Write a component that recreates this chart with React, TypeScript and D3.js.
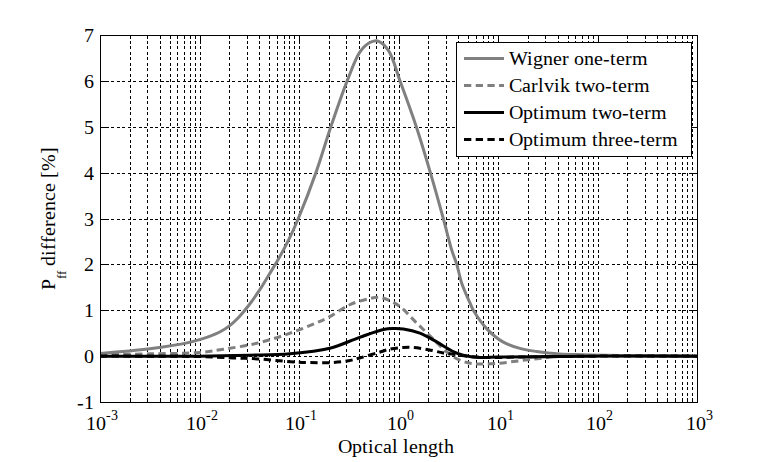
import React from "react";
import * as d3 from "d3";

// ---- data (x = optical length, y = Pff difference [%]) ----
const wignerX = [0.001, 0.00316, 0.0079, 0.01, 0.0126, 0.0158, 0.02, 0.0251, 0.0316, 0.0407, 0.0501, 0.0597, 0.0794, 0.0984, 0.148, 0.209, 0.305, 0.407, 0.5, 0.617, 0.794, 1.035, 1.51, 2.09, 2.82, 3.43, 3.85, 4.32, 5.25, 5.65, 7.69, 11.2, 16.6, 24.5, 41.7, 70.8, 117, 316, 1000];
const wignerY = [0.06, 0.16, 0.3, 0.36, 0.43, 0.52, 0.66, 0.86, 1.12, 1.46, 1.78, 2.05, 2.55, 3.0, 4.0, 5.0, 6.0, 6.62, 6.82, 6.87, 6.66, 6.0, 5.0, 4.0, 3.0, 2.31, 2.0, 1.59, 1.15, 1.0, 0.6, 0.31, 0.17, 0.1, 0.045, 0.03, 0.02, 0.005, 0];

const carlvikX = [0.001, 0.00316, 0.01, 0.0174, 0.0376, 0.0813, 0.151, 0.204, 0.324, 0.5, 0.631, 0.794, 1.035, 1.51, 2.24, 3.31, 4.52, 6.17, 9.77, 16.6, 26.3, 41.7, 100, 1000];
const carlvikY = [0.03, 0.05, 0.08, 0.15, 0.28, 0.5, 0.73, 0.86, 1.12, 1.25, 1.28, 1.22, 1.08, 0.73, 0.37, 0.03, -0.12, -0.17, -0.16, -0.1, -0.05, -0.01, 0, 0];

const opt2X = [0.001, 0.01, 0.0316, 0.0813, 0.204, 0.407, 0.708, 0.891, 1.12, 1.64, 2.42, 3.55, 4.47, 6.61, 10, 31.6, 100, 1000];
const opt2Y = [0.0, 0.0, 0.02, 0.05, 0.17, 0.41, 0.58, 0.6, 0.59, 0.5, 0.31, 0.1, 0.02, -0.03, -0.02, -0.01, 0, 0];

const opt3X = [0.001, 0.01, 0.0219, 0.038, 0.0813, 0.126, 0.219, 0.316, 0.407, 0.631, 0.813, 1.12, 1.41, 2.0, 2.82, 3.55, 5.25, 7.94, 15.8, 39.8, 100, 1000];
const opt3Y = [0.0, -0.01, -0.04, -0.06, -0.12, -0.14, -0.14, -0.1, -0.04, 0.08, 0.15, 0.19, 0.19, 0.14, 0.07, 0.04, -0.01, -0.03, -0.02, -0.01, 0, 0];

const seriesNames = ["Wigner one-term", "Carlvik two-term", "Optimum two-term", "Optimum three-term"];
const yTicks = [-1, 0, 1, 2, 3, 4, 5, 6, 7];
const xDecades = [-3, -2, -1, 0, 1, 2, 3];
const xLabel = "Optical length";

const W = 770, H = 462;
const L = 100, R = 697, T = 35, B = 402;
const GRAY = "#808080";
const FONT = '"ChartSerif", "Liberation Serif", "Tinos", "Times New Roman", "DejaVu Serif", "Noto Serif"';
const CSS = `
@font-face { font-family: "ChartSerif"; src: local("Liberation Serif"), local("LiberationSerif"), local("LiberationSerif-Regular"), local("Liberation Serif Regular"), local("Tinos"), local("Times New Roman"); }
svg.chart text, svg.chart tspan { font-family: ${FONT}; }
`;

export default function App() {
  const x = d3.scaleLog().domain([1e-3, 1e3]).range([L, R]);
  const y = d3.scaleLinear().domain([-1, 7]).range([B, T]);

  const series = [
    { xs: wignerX, ys: wignerY, color: GRAY, dash: undefined },
    { xs: carlvikX, ys: carlvikY, color: GRAY, dash: "7.3,4.4" },
    { xs: opt2X, ys: opt2Y, color: "#000", dash: undefined },
    { xs: opt3X, ys: opt3Y, color: "#000", dash: "7.3,4.4" },
  ];

  const line = d3
    .line<[number, number]>()
    .x((d) => x(d[0]))
    .y((d) => y(d[1]))
    .curve(d3.curveCatmullRom.alpha(0.5));

  const minorVals: number[] = [];
  const majorVals: number[] = [];
  xDecades.forEach((e) => {
    majorVals.push(Math.pow(10, e));
    if (e < 3) for (let k = 2; k <= 9; k++) minorVals.push(k * Math.pow(10, e));
  });

  const px = (v: number) => Math.round(v) + 0.5;
  const TXT: React.CSSProperties = { fontFamily: FONT };

  return (
    <>
      <style>{CSS}</style>
      <svg className="chart" width={W} height={H} style={{ position: "absolute", left: 0, top: 0, fontFamily: FONT }}>
        <rect x={0} y={0} width={W} height={H} fill="#fff" />
        {/* grid */}
        <g stroke="#000" strokeWidth={1} strokeDasharray="3,2.5" shapeRendering="crispEdges">
          {[...minorVals, ...majorVals]
            .filter((v) => v > 1e-3 && v < 1e3)
            .map((v, i) => (
              <line key={"gx" + i} x1={px(x(v))} x2={px(x(v))} y1={T} y2={B} />
            ))}
          {yTicks
            .filter((v) => v > -1 && v < 7)
            .map((v) => (
              <line key={"gy" + v} x1={L} x2={R} y1={px(y(v))} y2={px(y(v))} />
            ))}
        </g>
        {/* ticks */}
        <g stroke="#000" strokeWidth={1} shapeRendering="crispEdges">
          {majorVals.map((v, i) => (
            <g key={"mt" + i}>
              <line x1={px(x(v))} x2={px(x(v))} y1={B} y2={B - 7} />
              <line x1={px(x(v))} x2={px(x(v))} y1={T} y2={T + 7} />
            </g>
          ))}
          {minorVals.map((v, i) => (
            <g key={"nt" + i}>
              <line x1={px(x(v))} x2={px(x(v))} y1={B} y2={B - 3.5} />
              <line x1={px(x(v))} x2={px(x(v))} y1={T} y2={T + 3.5} />
            </g>
          ))}
          {yTicks.map((v) => (
            <g key={"yt" + v}>
              <line x1={L} x2={L + 7} y1={px(y(v))} y2={px(y(v))} />
              <line x1={R} x2={R - 7} y1={px(y(v))} y2={px(y(v))} />
            </g>
          ))}
        </g>
        {/* data */}
        <g fill="none" strokeWidth={3}>
          {series.map((s, i) => (
            <path
              key={"s" + i}
              d={line(s.xs.map((xv, j) => [xv, s.ys[j]] as [number, number])) || ""}
              stroke={s.color}
              strokeDasharray={s.dash}
            />
          ))}
        </g>
        {/* box */}
        <rect x={L + 0.5} y={T + 0.5} width={R - L} height={B - T} fill="none" stroke="#000" strokeWidth={1} shapeRendering="crispEdges" />
        {/* y tick labels */}
        {yTicks.map((v) => (
          <text key={"yl" + v} x={94} y={y(v)} dy={7} style={TXT} fontSize={20} textAnchor="end" fill="#000">
            {v}
          </text>
        ))}
        {/* x tick labels */}
        {xDecades.map((e) => (
          <text key={"xl" + e} x={x(Math.pow(10, e)) + 2} y={430} style={TXT} fontSize={20} textAnchor="middle" fill="#000">
            10
            <tspan fontSize={14} dy={-10}>
              {e}
            </tspan>
          </text>
        ))}
        {/* axis labels */}
        <text x={396} y={453} style={TXT} fontSize={20} textAnchor="middle" fill="#000">
          {xLabel}
        </text>
        <text transform={`translate(55,${(T + B) / 2}) rotate(-90)`} style={TXT} fontSize={20} textAnchor="middle" fill="#000">
          P
          <tspan fontSize={13} dy={11}>ff</tspan>
          <tspan dy={-11}> difference [%]</tspan>
        </text>
        {/* legend */}
        <rect x={456.5} y={42.5} width={235} height={114} fill="#fff" stroke="#000" strokeWidth={1} shapeRendering="crispEdges" />
        {series.map((s, i) => {
          const ly = 58.5 + i * 27;
          return (
            <g key={"lg" + i}>
              <line x1={464} x2={504} y1={ly} y2={ly} stroke={s.color} strokeWidth={3} strokeDasharray={s.dash} />
              <text x={509} y={ly} dy={6.5} style={TXT} fontSize={20} fill="#000">
                {seriesNames[i]}
              </text>
            </g>
          );
        })}
      </svg>
    </>
  );
}
